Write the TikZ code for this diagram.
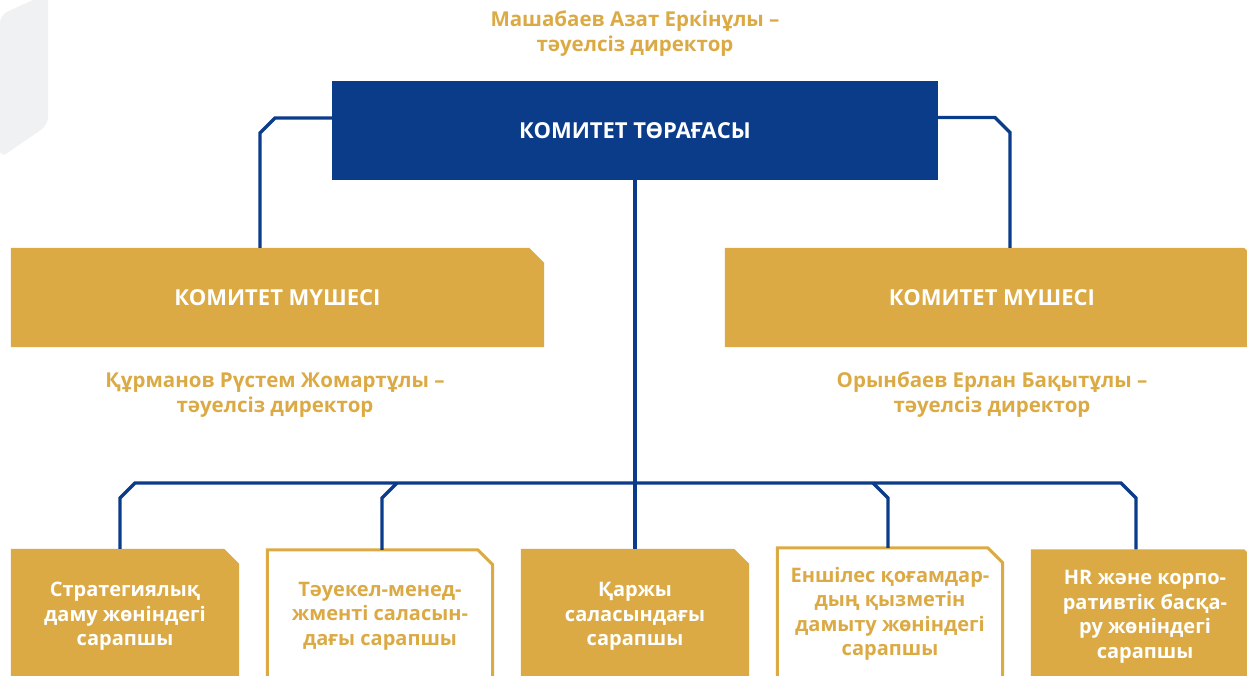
\documentclass[tikz,border=0pt]{standalone}
\usepackage{fontspec}
\setmainfont{Open Sans}
\usetikzlibrary{backgrounds}
\definecolor{navy}{HTML}{0A3C8A}
\definecolor{gold}{HTML}{DBAA44}
\definecolor{paper}{HTML}{F0F1F3}
\newcommand{\cutbox}[2]{\path[#2] (#1.south west) -- (#1.north west) -- ([xshift=-15pt]#1.north east) -- ([yshift=-15pt]#1.north east) -- (#1.south east) -- cycle;}
\tikzset{
  link/.style={navy, line width=3.4pt},
  head/.style={text=white, inner sep=0pt, font=\bfseries\fontsize{22}{24}\selectfont},
  who/.style={text=gold, align=center, font=\bfseries\fontsize{20.5}{25}\selectfont},
  expert/.style={align=center, inner sep=0pt, minimum width=228pt, minimum height=135pt, text=white, font=\bfseries\fontsize{20}{24.5}\selectfont},
  hollow/.style={expert, minimum width=225pt, minimum height=132pt, text=gold},
}
\begin{document}
\begin{tikzpicture}[x=1pt, y=-1pt]
  \useasboundingbox (0,0) rectangle (1247,676);
  \clip (0,0) rectangle (1247,676);
  % names
  \node[who] (chairname) at (635,34) {Машабаев Азат Еркінұлы –\\тәуелсіз директор};
  \node[who] (lname) at (275,395) {Құрманов Рүстем Жомартұлы –\\тәуелсіз директор};
  \node[who] (rname) at (992,395) {Орынбаев Ерлан Бақытұлы –\\тәуелсіз директор};
  % committee
  \node[head, fill=navy, minimum width=606pt, minimum height=99pt] (chair) at (635,130.5) {КОМИТЕТ ТӨРАҒАСЫ};
  \node[head, minimum width=533pt, minimum height=99pt] (lmem) at (277.5,297.5) {КОМИТЕТ МҮШЕСІ};
  \node[head, minimum width=534pt, minimum height=99pt] (rmem) at (992,297.5) {КОМИТЕТ МҮШЕСІ};
  % experts
  \node[expert] (exp1) at (125,616.5) {Стратегиялық\\даму жөніндегі\\сарапшы};
  \node[hollow] (exp2) at (380,616) {Тәуекел-менед-\\жменті саласын-\\дағы сарапшы};
  \node[expert] (exp3) at (635,616.5) {Қаржы\\саласындағы\\сарапшы};
  \node[hollow] (exp4) at (890,614) {Еншілес қоғамдар-\\дың қызметін\\дамыту жөніндегі\\сарапшы};
  \node[expert] (exp5) at (1145,617) {HR және корпо-\\ративтік басқа-\\ру жөніндегі\\сарапшы};
  \begin{pgfonlayer}{background}
    \fill[paper] (0,15) -- (33,0) -- (48,0) [rounded corners=8pt] -- (48,125) -- (0,158) -- cycle;
    \cutbox{lmem}{fill=gold}
    \cutbox{rmem}{fill=gold}
    \cutbox{exp1}{fill=gold}
    \cutbox{exp2}{draw=gold, line width=3pt, fill=white}
    \cutbox{exp3}{fill=gold}
    \cutbox{exp4}{draw=gold, line width=3pt, fill=white}
    \cutbox{exp5}{fill=gold}
  \end{pgfonlayer}
  % links
  \draw[link] ([yshift=12.5pt]chair.west) -- (275,118) -- (260,133) -- (lmem.north -| 260,0);
  \draw[link] ([yshift=13pt]chair.east) -- (995,117.5) -- (1010,132.5) -- (rmem.north -| 1010,0);
  \draw[link] (chair.south) -- (exp3.north);
  \draw[link] (exp1.north -| 120,0) -- (120,498) -- (135,483) -- (1121,483) -- (1136,498) -- (exp5.north -| 1136,0);
  \draw[link] (exp2.north -| 382,0) -- (382,498) -- (397,483);
  \draw[link] (exp4.north -| 888,0) -- (888,498) -- (873,483);
\end{tikzpicture}
\end{document}
